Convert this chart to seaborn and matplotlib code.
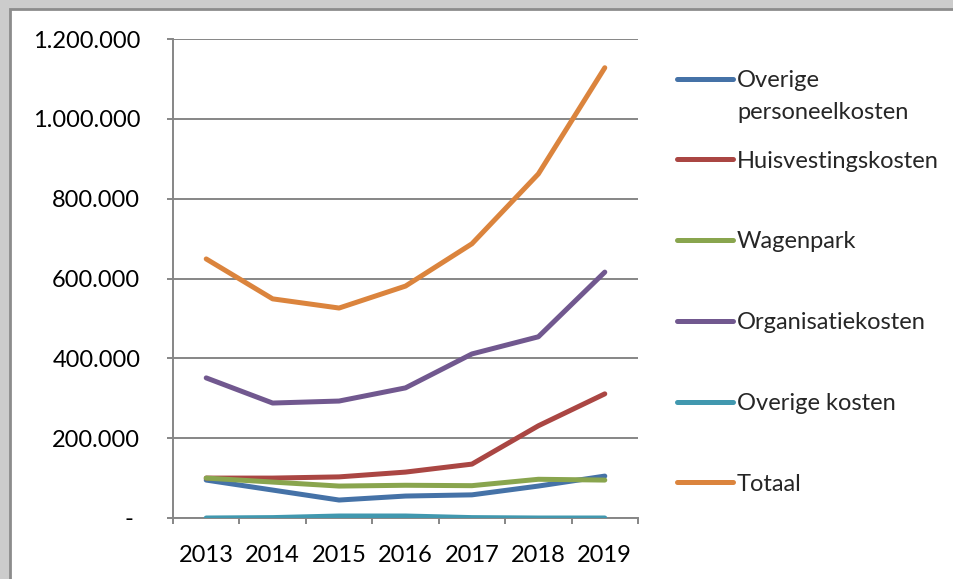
import pandas as pd
import seaborn as sns
import matplotlib.pyplot as plt
from matplotlib.patches import Rectangle
from matplotlib.ticker import FuncFormatter, FixedLocator

# data
years = ['2013', '2014', '2015', '2016', '2017', '2018', '2019']
series_names = ['Overige personeelkosten', 'Huisvestingskosten', 'Wagenpark',
                'Organisatiekosten', 'Overige kosten', 'Totaal']
overige_personeel = [95000, 70000, 45000, 55000, 58000, 80000, 105000]
huisvesting = [100000, 100000, 103000, 115000, 135000, 231000, 311000]
wagenpark = [100000, 90000, 80000, 82000, 81000, 97000, 95000]
organisatie = [351000, 288000, 293000, 326000, 411000, 454000, 616000]
overige_kosten = [0, 1000, 5000, 5000, 1000, 0, 0]
totaal = [649000, 549000, 526000, 581000, 687000, 862000, 1128000]
y_ticks = [0, 200000, 400000, 600000, 800000, 1000000, 1200000]

colors = ['#4572A7', '#AA4643', '#89A54E', '#71588F', '#4198AF', '#DB843D']
GRID = '#868686'
FS = 17
LW = 3.6


def fmt(v, pos):
    if v == 0:
        return '- '
    return f'{int(v):,}'.replace(',', '.')


def main():
    values = [overige_personeel, huisvesting, wagenpark, organisatie, overige_kosten, totaal]
    df = pd.DataFrame({
        'jaar': years * len(series_names),
        'serie': [n for n in series_names for _ in years],
        'bedrag': [v for vals in values for v in vals],
    })

    sns.set_style('white')
    plt.rcParams['font.family'] = ['Lato', 'DejaVu Sans']

    fig = plt.figure(figsize=(9.54, 5.79), dpi=100)
    fig.patch.set_facecolor('#cccccc')
    fig.patches.append(Rectangle((10.5 / 954, -0.1), 1.2, 1 - 9.5 / 579 + 0.1,
                                 transform=fig.transFigure, facecolor='white',
                                 edgecolor='#8c8c8c', linewidth=2, zorder=-1))

    ax = fig.add_axes([173 / 954, 1 - 518 / 579, (638 - 173) / 954, (518 - 39) / 579])
    ax.set_facecolor('none')

    sns.lineplot(data=df, x='jaar', y='bedrag', hue='serie', hue_order=series_names,
                 palette=colors, linewidth=LW, ax=ax, legend=False,
                 solid_capstyle='round', zorder=3)

    ax.set_xlim(-0.5, 6.5)
    ax.set_ylim(0, 1200000)
    ax.yaxis.set_major_locator(FixedLocator(y_ticks))
    ax.yaxis.set_major_formatter(FuncFormatter(fmt))
    ax.grid(axis='y', color=GRID, linewidth=1.4, zorder=0)
    ax.set_axisbelow(True)

    for side in ['top', 'right']:
        ax.spines[side].set_visible(False)
    for side in ['left', 'bottom']:
        ax.spines[side].set_color(GRID)
        ax.spines[side].set_linewidth(1.4)

    ax.tick_params(axis='y', which='major', left=True, length=4.5, width=1.4, color=GRID,
                   pad=19, labelsize=FS, labelcolor='black')
    ax.tick_params(axis='x', which='major', bottom=False, pad=16, labelsize=FS,
                   labelcolor='black')
    ax.set_xticks([i - 0.5 for i in range(len(years) + 1)], minor=True)
    ax.tick_params(axis='x', which='minor', bottom=True, length=4.5, width=1.4, color=GRID)
    ax.set_xlabel('')
    ax.set_ylabel('')

    # legend, first label wrapped onto two lines like the original
    handles = [plt.Line2D([], [], color=c, linewidth=LW, solid_capstyle='round')
               for c in colors]
    labels = ['Overige'] + series_names[1:]
    leg = fig.legend(handles, labels, loc='upper left',
                     bbox_to_anchor=(677 / 954, 1 - 70 / 579),
                     frameon=False, fontsize=FS, handlelength=2.37,
                     handletextpad=0.17, labelspacing=2.53, borderpad=0,
                     borderaxespad=0)
    fig.canvas.draw()
    bb = leg.get_texts()[0].get_window_extent().transformed(fig.transFigure.inverted())
    fig.text(bb.x0, (bb.y0 + bb.y1) / 2 - 32 / 579, 'personeelkosten', fontsize=FS,
             va='center', ha='left')

    fig.savefig('out.png', dpi=100, facecolor=fig.get_facecolor())


if __name__ == '__main__':
    main()
